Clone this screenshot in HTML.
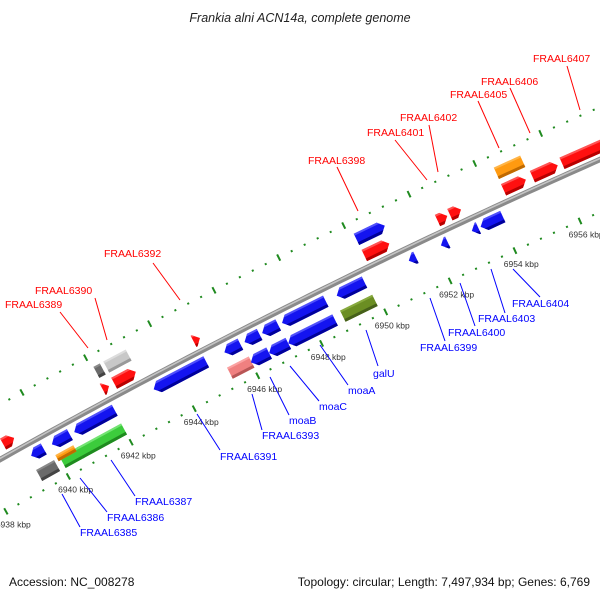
<!DOCTYPE html>
<html><head><meta charset="utf-8"><style>
html,body{margin:0;padding:0;background:#fff;}
svg{display:block;font-family:"Liberation Sans","DejaVu Sans",sans-serif;}
</style></head><body>
<svg id="chart" width="600" height="600" viewBox="0 0 600 600" xmlns="http://www.w3.org/2000/svg">
<rect width="600" height="600" fill="#fff"/>
<text x="300" y="22" text-anchor="middle" font-size="12.5" font-style="italic" fill="#222">Frankia alni ACN14a, complete genome</text>
<g id="defs-holder"></g>
<g id="rings"></g>
<g id="axis"></g>
<g id="feats"></g>
<g id="klabels"></g>
<g id="labels"></g>
<text x="9" y="586" font-size="12" fill="#111">Accession: NC_008278</text>
<text x="590" y="586" font-size="12" text-anchor="end" fill="#111">Topology: circular; Length: 7,497,934 bp; Genes: 6,769</text>
</svg>
<script>
// ---- data ----
const featStart = [6938.4,6938.85,6942.07,6942.38,6942.0,6942.36,6944.85,6950.15,6950.15,6952.4,6952.78,6954.43,6954.42,6955.3,6956.2,
  6939.37,6940.03,6940.74,6943.25,6945.47,6946.1,6946.65,6947.27,6948.97,6951.2,6952.19,6953.14,6953.41,
  6939.3,6940.05,6939.97,6940.6,6945.34,6946.0,6946.57,6947.17,6948.87];
const featEnd = [6938.75,6939.2,6942.27,6943.08,6942.2,6943.04,6945.05,6951.02,6950.92,6952.7,6953.12,6955.23,6955.1,6956.07,6958.5,
  6939.77,6940.6,6942.02,6944.9,6945.97,6946.57,6947.15,6948.63,6949.83,6951.42,6952.4,6953.34,6954.09,
  6939.87,6940.65,6940.54,6942.0,6946.02,6946.57,6947.17,6948.63,6949.87];
const featRow = [1,1,2,2,1,1,1,2,1,1,1,2,1,1,1,
  -1,-1,-1,-1,-1,-1,-1,-1,-1,-1,-1,-1,-1,
  -2,-2,-2.5,-2,-2,-2,-2,-2,-2];
const featDir = [1,1,0,0,1,1,1,1,1,1,1,0,1,1,1,
  -1,-1,-1,-1,-1,-1,-1,-1,-1,-1,-1,-1,-1,
  0,0,0,0,0,-1,-1,-1,0];
const featColor = ["red","red","dgray","lgray","red","red","red","blue","red","red","red","orange","red","red","red",
  "blue","blue","blue","blue","blue","blue","blue","blue","blue","blue","blue","blue","blue",
  "dgray","green","orange","green","pink","blue","blue","blue","olive"];
const tickStart = 6936.4, tickEnd = 6960;
const majorTicks = [6938,6940,6942,6944,6946,6948,6950,6952,6954,6956,6958];
const majorLabels = ["6938 kbp","6940 kbp","6942 kbp","6944 kbp","6946 kbp","6948 kbp","6950 kbp","6952 kbp","6954 kbp","6956 kbp","6958 kbp"];

// ---- geometry ----
const CX=3441, CY=6591, R0=7031, TH0=-117.12*Math.PI/180, PXK=36;
function P(k,r){const th=TH0+(k-6946)*PXK/R0;const R=R0+r;return [CX+R*Math.cos(th), CY+R*Math.sin(th)];}
const NS="http://www.w3.org/2000/svg";
function mk(tag,attrs,parent){const e=document.createElementNS(NS,tag);for(const a in attrs)e.setAttribute(a,attrs[a]);parent.appendChild(e);return e;}
const palette={red:["#ff1010","#b80000","#ff7070"],blue:["#1414f0","#00009a","#6a6aff"],dgray:["#6a6a6a","#444","#999"],
 lgray:["#c8c8c8","#999","#e6e6e6"],orange:["#ff9a10","#c06a00","#ffc060"],green:["#3ccc3c","#1f8a1f","#8aee8a"],
 pink:["#f08080","#b85656","#ffb0b0"],olive:["#6b8e23","#46601a","#93b54a"]};

// backbone
const axisG=document.getElementById('axis');
function arcPath(k1,k2,r){let d="";for(let k=k1;k<=k2+1e-9;k+=0.25){const p=P(k,r);d+=(d?"L":"M")+p[0].toFixed(2)+","+p[1].toFixed(2);}return d;}
let e=mk('path',{d:arcPath(6936,6960,0),stroke:"#8a8a8a","stroke-width":5.5,fill:"none"},axisG);


e=mk('path',{d:arcPath(6936,6960,1),stroke:"#c4c4c4","stroke-width":1.6,fill:"none"},axisG);



// ticks
const rings=document.getElementById('rings');
const nT=Math.round((tickEnd-tickStart)/0.4);
for(let i=0;i<=nT;i++){
  const k=tickStart+i*0.4;
  const major=majorTicks.some(m=>Math.abs(m-k)<0.01);
  [-48,48].forEach(rr=>{
    const h=major?3.5:1;
    const a=P(k,rr-h),b=P(k,rr+h);
    const t=mk('line',{x1:a[0],y1:a[1],x2:b[0],y2:b[1],stroke:"#1f8a1f","stroke-width":major?2:2},rings);
    
    
  });
}
const kl=document.getElementById('klabels');
majorTicks.forEach((k,i)=>{
  const p=P(k,-63);
  const t=mk('text',{x:p[0],y:p[1]+3,"text-anchor":"middle","font-size":8.5,fill:"#333"},kl);
  t.textContent=majorLabels[i];
  
  
});

// features
const fg=document.getElementById('feats');
const defs=mk('defs',{},document.getElementById('defs-holder'));
const H=12.5;
function rowCenter(row){ if(row===-2.5) return -26.5; return row>0?(row===1?12:30):(row===-1?-12:-33); }
function shapePts(k1,k2,rc,dir,h){
  const lenPx=(k2-k1)*PXK; const head=Math.min(6,lenPx*0.9)/PXK;
  const lo=rc-h/2, hi=rc+h/2; let pts=[];
  if(dir===1){pts=[P(k1,lo),P(k1,hi),P(k2-head,hi),P(k2,rc),P(k2-head,lo)];}
  else if(dir===-1){pts=[P(k2,lo),P(k2,hi),P(k1+head,hi),P(k1,rc),P(k1+head,lo)];}
  else {pts=[P(k1,lo),P(k1,hi),P(k2,hi),P(k2,lo)];}
  return pts.map(p=>p[0].toFixed(2)+","+p[1].toFixed(2)).join(" ");
}
featStart.forEach((k1,i)=>{
  const k2=featEnd[i], row=featRow[i], dir=featDir[i], col=palette[featColor[i]];
  const h=(row===-2.5)?7:H;
  const rc=rowCenter(row);
  const pts=shapePts(k1,k2,rc,dir,h);
  const g=mk('g',{},fg);
  
  
  const cp=mk('clipPath',{id:'cp'+i},defs);
  mk('polygon',{points:pts},cp);
  mk('polygon',{points:pts,fill:col[0]},g);
  const lo=rc-h/2;
  const strip=[P(k1-0.3,lo-1),P(k1-0.3,lo+3),P(k2+0.3,lo+3),P(k2+0.3,lo-1)].map(p=>p.join(",")).join(" ");
  mk('polygon',{points:strip,fill:col[1],"clip-path":"url(#cp"+i+")"},g);
  const hi=rc+h/2;
  const strip2=[P(k1-0.3,hi-2),P(k1-0.3,hi+1),P(k2+0.3,hi+1),P(k2+0.3,hi-2)].map(p=>p.join(",")).join(" ");
  mk('polygon',{points:strip2,fill:col[2],"clip-path":"url(#cp"+i+")",opacity:0.7},g);
});

// gene labels (annotation positions)
const labelText=["FRAAL6389","FRAAL6390","FRAAL6392","FRAAL6398","FRAAL6401","FRAAL6402","FRAAL6405","FRAAL6406","FRAAL6407",
 "FRAAL6385","FRAAL6386","FRAAL6387","FRAAL6391","FRAAL6393","moaB","moaC","moaA","galU","FRAAL6399","FRAAL6400","FRAAL6403","FRAAL6404"];
const labelXY=[[5,308],[35,294],[104,257],[308,164],[367,136],[400,121],[450,98],[481,85],[533,62],
 [80,536],[107,521],[135,505],[220,460],[262,439],[289,424],[319,410],[348,394],[373,377],[420,351],[448,336],[478,322],[512,307]];
const leader=[[60,312,88,348],[95,298,107,340],[153,263,180,300],[337,167,358,211],[395,140,427,180],[429,125,438,172],[478,101,499,148],[510,88,530,133],[567,66,580,110],
 [62,494,80,527],[80,478,107,512],[111,460,135,496],[197,414,220,450],[252,394,262,430],[270,377,289,415],[290,366,319,401],[320,345,348,385],[366,330,378,366],[430,298,445,341],[460,283,475,326],[491,269,505,313],[513,269,540,297]];
const lg=document.getElementById('labels');
labelText.forEach((s,i)=>{
  const c=i<9?"#ff0000":"#0000ff";
  const L=leader[i];
  const l=mk('line',{x1:L[0],y1:L[1],x2:L[2],y2:L[3],stroke:c,"stroke-width":1},lg);
  
  
  const t=mk('text',{x:labelXY[i][0],y:labelXY[i][1],"font-size":10.5,fill:c},lg);
  t.textContent=s;
  
  
});
</script>
</body></html>
